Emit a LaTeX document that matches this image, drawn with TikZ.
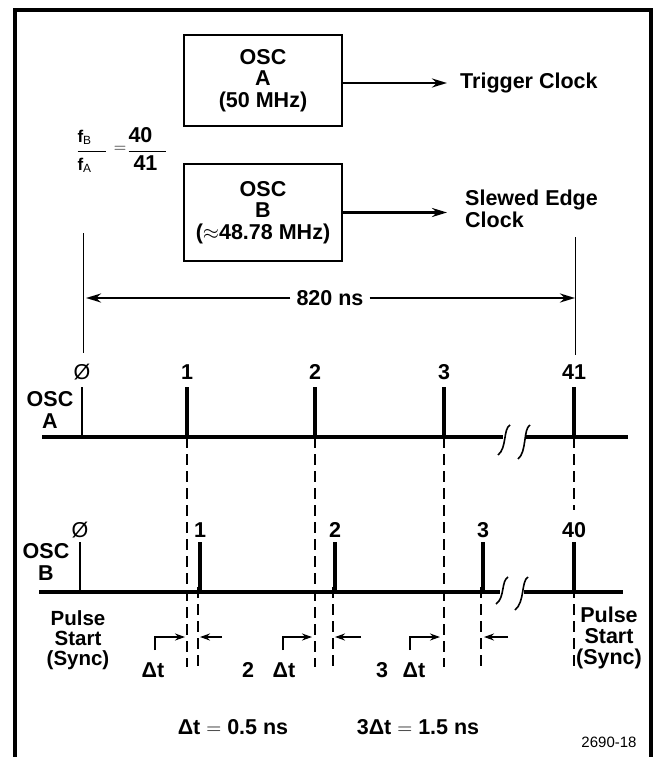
\documentclass[tikz,border=0pt]{standalone}
\usepackage{amsmath}
\usepackage{fontspec}
\setmainfont{Liberation Sans}
\usetikzlibrary{arrows.meta,positioning}

\newcommand{\fsmall}[1]{\mbox{\fontsize{17}{17}\selectfont$#1$}}

\begin{document}
\begin{tikzpicture}[
    x=1pt, y=-1pt,
    lbl/.style={font=\fontsize{21.5}{21.5}\selectfont\bfseries, inner sep=0pt, align=center},
    num/.style={font=\fontsize{21.5}{21.5}\selectfont, inner sep=0pt},
    note/.style={font=\fontsize{15}{17}\selectfont, inner sep=0pt},
    oscbox/.style={rectangle, draw=black, line width=2.4pt, minimum width=158pt, lbl},
    arrow/.style={line width=2.4pt,->,>={Stealth[length=15pt,width=9pt]}},
    smallarrow/.style={line width=2.2pt,->,>={Stealth[length=10pt,width=7pt]}},
    axis/.style={line width=3.2pt},
    pulse/.style={line width=3.6pt, shorten >=7pt},
    zeropulse/.style={line width=2pt, shorten >=7pt},
    guide/.style={line width=1pt},
    dashline/.style={line width=1.2pt, dash pattern=on 11pt off 6pt},
    breakmark/.style={line width=1.6pt}
]
\useasboundingbox (0,0) rectangle (657,757);

% frame
\draw[line width=3.5pt] (15,757) |- (651,10) -- (651,757);

% oscillators
\node (oscA) [oscbox, minimum height=91pt] at (263,80.5) {OSC\\A\\(50 MHz)};
\node (oscB) [oscbox, minimum height=97pt] at (263,212.5) {OSC\\B\\($\approx$48.78 MHz)};
\node (trig) [lbl, anchor=west] at (460,83) {Trigger Clock};
\node (slew) [lbl, anchor=west, align=left] at (465,209) {Slewed Edge\\Clock};

% frequency ratio
\node (ratio) [num] at (122,150) {$\dfrac{\fsmall{\mathbf{f}_{\mathrm{B}}}\hspace{14pt}}{\fsmall{\mathbf{f}_{\mathrm{A}}}\hspace{14pt}}\hspace{7pt}\raisebox{4pt}{\fsmall{=}}\hspace{1pt}\dfrac{\mbox{\bfseries 40}\hspace{14pt}}{\hspace{5pt}\mbox{\bfseries 41}\hspace{9pt}}$};

\draw [arrow, shorten >=13pt] (oscA.east |- trig) -- (trig.west);
\draw [arrow, shorten >=13pt] (oscB.east) -- (oscB.east -| trig.west);

% 820 ns span
\coordinate (gl0) at (83,233);
\coordinate (gl1) at (83,353);
\coordinate (gr0) at (575,237);
\coordinate (gr1) at (575,355);
\node (span) [lbl, inner xsep=6pt] at (330,298) {820 ns};
\draw [guide] (gl0) -- (gl1);
\draw [guide] (gr0) -- (gr1);
\draw [arrow] (span.west) -- ([xshift=3pt]gl0 |- span);
\draw [arrow] (span.east) -- (gr0 |- span);

% OSC A pulses
\node (oscAlbl) [lbl] at (50,410) {OSC\\A};
\node (a0) [num] at (82,372) {Ø};
\node (a1) [lbl] at (187,372) {1};
\node (a2) [lbl] at (315,372) {2};
\node (a3) [lbl] at (444,372) {3};
\node (a41) [lbl] at (574,372) {41};
\coordinate (fa0) at (82,437);
\coordinate (fa1) at (187,437);
\coordinate (fa2) at (315,437);
\coordinate (fa3) at (444,437);
\coordinate (fa41) at (574,437);
\coordinate (axA0) at (42,437);
\coordinate (axA1) at (503,437);
\coordinate (axA2) at (525,437);
\coordinate (axA3) at (628,437);
\draw [axis] (axA0) -- (axA1);
\draw [axis] (axA2) -- (axA3);
\draw [zeropulse] (fa0) -- (a0);
\draw [pulse] (fa1) -- (a1);
\draw [pulse] (fa2) -- (a2);
\draw [pulse] (fa3) -- (a3);
\draw [pulse] (fa41) -- (a41);
\draw [breakmark] (510,425) .. controls (503,429) and (507,448) .. (498,455);
\draw [breakmark] (530,425) .. controls (523,429) and (527,452) .. (518,459);

% OSC B pulses
\node (oscBlbl) [lbl] at (46,562) {OSC\\B};
\node (b0) [num] at (80,530) {Ø};
\node (b1) [lbl] at (200,530) {1};
\node (b2) [lbl] at (335,530) {2};
\node (b3) [lbl] at (483,530) {3};
\node (b40) [lbl] at (574,530) {40};
\coordinate (fb0) at (80,592);
\coordinate (fb1) at (200,592);
\coordinate (fb2) at (335,592);
\coordinate (fb3) at (483,592);
\coordinate (fb40) at (574,592);
\coordinate (axB0) at (39,592);
\coordinate (axB1) at (500,592);
\coordinate (axB2) at (524,592);
\coordinate (axB3) at (623,592);
\draw [axis] (axB0) -- (axB1);
\draw [axis] (axB2) -- (axB3);
\draw [zeropulse, shorten >=4pt] (fb0) -- (b0);
\draw [pulse, shorten >=4pt] (fb1) -- (b1);
\draw [pulse, shorten >=4pt] (fb2) -- (b2);
\draw [pulse, shorten >=4pt] (fb3) -- (b3);
\draw [pulse, shorten >=4pt] (fb40) -- (b40);
\draw [breakmark] (508,577) .. controls (501,581) and (505,598) .. (496,604);
\draw [breakmark] (528,577) .. controls (521,581) and (525,602) .. (515,610);

% dashed guides
\coordinate (da1) at (187,667);
\coordinate (da2) at (315,667);
\coordinate (da3) at (444,667);
\coordinate (da41) at (574,510);
\coordinate (db1) at (198,667);
\coordinate (db2) at (333,667);
\coordinate (db3) at (481,667);
\coordinate (db40) at (574,667);
\draw [dashline] (fa1) -- (da1);
\draw [dashline] (fa2) -- (da2);
\draw [dashline] (fa3) -- (da3);
\draw [dashline] (fa41) -- (da41);
\draw [dashline] ([yshift=5pt]fb1 -| db1) -- (db1);
\draw [dashline] ([yshift=5pt]fb2 -| db2) -- (db2);
\draw [dashline] ([yshift=5pt]fb3 -| db3) -- (db3);
\draw [dashline] ([yshift=5pt]fb40) -- (db40);

% pulse start labels
\node (syncL) [lbl, font=\fontsize{20.5}{20}\selectfont\bfseries] at (78,640) {Pulse\\Start\\(Sync)};
\node (syncR) [lbl, font=\fontsize{21.5}{21}\selectfont\bfseries] at (609,638) {Pulse\\Start\\(Sync)};

% delta t markers
\node (dt1) [lbl] at (153,670) {Δt};
\node (k2) [lbl] at (248,670) {2};
\node (dt2) [lbl] at (284,670) {Δt};
\node (k3) [lbl] at (382,670) {3};
\node (dt3) [lbl] at (414,670) {Δt};
\coordinate (e1) at (155,650);
\coordinate (e2) at (283,650);
\coordinate (e3) at (410,650);
\coordinate (t1) at (185,637);
\coordinate (t2) at (312,637);
\coordinate (t3) at (440,637);
\coordinate (s1) at (222,637);
\coordinate (s2) at (361,637);
\coordinate (s3) at (508,637);
\coordinate (u1) at (200,637);
\coordinate (u2) at (335,637);
\coordinate (u3) at (484,637);
\draw [smallarrow] (e1) |- (t1);
\draw [smallarrow] (e2) |- (t2);
\draw [smallarrow] (e3) |- (t3);
\draw [smallarrow] (s1) -- (u1);
\draw [smallarrow] (s2) -- (u2);
\draw [smallarrow] (s3) -- (u3);

% results
\node (res1) [lbl] at (233,727) {Δt $=$ 0.5 ns};
\node (res2) [lbl] at (418,727) {3Δt $=$ 1.5 ns};
\node (fig) [note] at (609,742) {2690-18};

\end{tikzpicture}
\end{document}
